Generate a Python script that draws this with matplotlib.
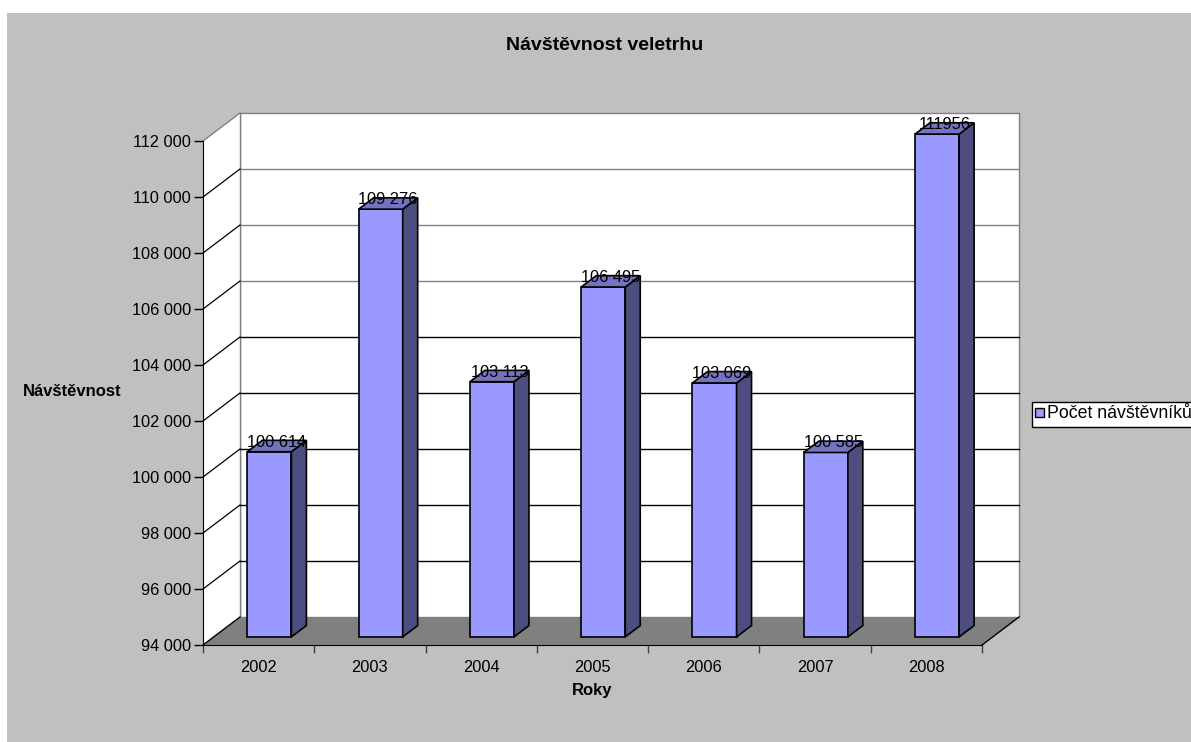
import matplotlib
matplotlib.use('Agg')
import matplotlib.pyplot as plt
from matplotlib.patches import Polygon, Rectangle
from matplotlib.lines import Line2D
from matplotlib.transforms import IdentityTransform
from matplotlib.ticker import FuncFormatter, FixedLocator
import numpy as np

# ---------------- data ----------------
years = ['2002', '2003', '2004', '2005', '2006', '2007', '2008']
visitors = [100614, 109276, 103113, 106495, 103069, 100585, 111956]
value_labels = ['100 614', '109 276', '103 113', '106 495', '103 069', '100 585', '111956']
y_ticks = [94000, 96000, 98000, 100000, 102000, 104000, 106000, 108000, 110000, 112000]
title = 'Návštěvnost veletrhu'
x_title = 'Roky'
y_title = 'Návštěvnost'
series_name = 'Počet návštěvníků'

# ---------------- figure ----------------
plt.rcParams['font.family'] = ['Liberation Sans', 'DejaVu Sans']
W, H = 1191, 742
DPI = 100
fig = plt.figure(figsize=(W / DPI, H / DPI), dpi=DPI, facecolor='white')
IDT = IdentityTransform()

def px(x, y):
    """image pixel (y down) -> display coords (y up)"""
    return (x, H - y)

# chart area background
fig.add_artist(Rectangle(px(7, H), W - 7, H - 13, transform=IDT,
                         facecolor='#c0c0c0', edgecolor='none', zorder=0))

# front plane axes
left_px, right_px, bot_px, top_px = 203, 982, 645, 141
ax = fig.add_axes([left_px / W, (H - bot_px) / H, (right_px - left_px) / W, (bot_px - top_px) / H])
ax.patch.set_visible(False)
ymin, ymax = y_ticks[0], y_ticks[-1]
n = len(years)
ax.set_xlim(-0.5, n - 0.5)
ax.set_ylim(ymin, ymax)

D = np.array([37.0, 28.0])  # depth vector in display pixels

def P(x, y, d):
    return ax.transData.transform((x, y)) + d * D

def poly(pts, fc, ec='none', lw=1.0, z=1):
    ax.add_patch(Polygon(np.array(pts), closed=True, transform=IDT, facecolor=fc,
                         edgecolor=ec, linewidth=lw, clip_on=False, zorder=z,
                         joinstyle='miter'))

def line(p0, p1, color, lw=1.0, z=1.5):
    a = np.array([p0, p1])
    ax.add_line(Line2D(a[:, 0], a[:, 1], transform=IDT, color=color, linewidth=lw,
                       clip_on=False, zorder=z))

x0, x1 = -0.5, n - 0.5
# back wall
poly([P(x0, ymin, 1), P(x1, ymin, 1), P(x1, ymax, 1), P(x0, ymax, 1)], 'white', '#808080', 1.0, 0.5)
# side wall
poly([P(x0, ymin, 0), P(x0, ymin, 1), P(x0, ymax, 1), P(x0, ymax, 0)], 'white', 'none', 1.0, 0.5)
line(P(x0, ymax, 0), P(x0, ymax, 1), '#808080', 1.0, 0.6)
line(P(x0, ymin, 1), P(x0, ymax, 1), '#808080', 1.0, 0.6)
# gridlines
for t in y_ticks[1:-1]:
    c = '#808080' if t >= 106000 else '#000000'
    line(P(x0, t, 1), P(x1, t, 1), c, 1.0, 0.7)
    line(P(x0, t, 0), P(x0, t, 1), '#000000', 0.9, 0.7)
# floor
poly([P(x0, ymin, 0), P(x1, ymin, 0), P(x1, ymin, 1), P(x0, ymin, 1)], '#808080', 'none', 1.0, 0.8)
line(P(x0, ymin, 0), P(x0, ymin, 1), '#000000', 1.0, 0.9)
line(P(x1, ymin, 0), P(x1, ymin, 1), '#000000', 1.0, 0.9)

# bars
d0, d1 = 0.29, 0.695
hw = 0.198
for i, v in enumerate(visitors):
    poly([P(i - hw, ymin, d0), P(i + hw, ymin, d0), P(i + hw, v, d0), P(i - hw, v, d0)],
         '#9999ff', 'black', 1.2, 2)
    poly([P(i + hw, ymin, d0), P(i + hw, ymin, d1), P(i + hw, v, d1), P(i + hw, v, d0)],
         '#4d4d80', 'black', 1.2, 2)
    poly([P(i - hw, v, d0), P(i + hw, v, d0), P(i + hw, v, d1), P(i - hw, v, d1)],
         '#7373bf', 'black', 1.2, 2)
    tp = P(i, v, (d0 + d1) / 2) + np.array([0, 4])
    ax.text(tp[0], tp[1], value_labels[i], transform=IDT, ha='center', va='center',
            fontsize=11.8, color='black', zorder=3, clip_on=False)

# axes spines / ticks
for s in ['top', 'right']:
    ax.spines[s].set_visible(False)
ax.spines['left'].set_color('black')
ax.spines['bottom'].set_color('black')
ax.spines['left'].set_zorder(1.6)
ax.spines['bottom'].set_zorder(1.6)
ax.yaxis.set_major_locator(FixedLocator(y_ticks))
ax.yaxis.set_major_formatter(FuncFormatter(lambda v, p: f'{int(v):,}'.replace(',', ' ')))
ax.tick_params(axis='y', direction='out', length=6.5, width=1, pad=2, labelsize=11.8, colors='black')
ax.set_xticks(range(n))
ax.set_xticklabels(years)
ax.set_xticks(np.arange(-0.5, n, 1.0), minor=True)
ax.tick_params(axis='x', which='major', length=0, pad=11, labelsize=11.8)
ax.tick_params(axis='x', which='minor', direction='out', length=6, width=1, color='#404040')

# titles
fig.text(*px(604.5, 46), title, transform=IDT, ha='center', va='center',
         fontsize=14, fontweight='bold')
fig.text(*px(72.5, 391), y_title, transform=IDT, ha='center', va='center',
         fontsize=12, fontweight='bold')
fig.text(*px(592, 691), x_title, transform=IDT, ha='center', va='center',
         fontsize=12, fontweight='bold')

# legend
fig.add_artist(Rectangle(px(1032, 427), 200, 25, transform=IDT, facecolor='white',
                         edgecolor='black', linewidth=1, zorder=3))
fig.add_artist(Rectangle(px(1035, 417), 9, 9, transform=IDT, facecolor='#9999ff',
                         edgecolor='black', linewidth=1, zorder=4))
fig.text(*px(1047, 413), series_name, transform=IDT, ha='left', va='center',
         fontsize=12.8, zorder=4)

fig.savefig('out.png', dpi=DPI, facecolor='white')
